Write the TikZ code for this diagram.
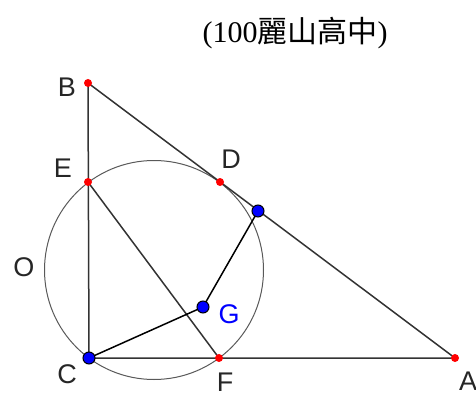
\documentclass[tikz,border=0pt]{standalone}
\usepackage{fontspec}
\setmainfont{Liberation Serif}
\setsansfont{Liberation Sans}
\newfontfamily\cjkfont{Noto Sans CJK TC}
\usetikzlibrary{positioning,calc}

\begin{document}
\begin{tikzpicture}[x=1pt, y=-1pt,
  seg/.style    = {draw=black!80, line width=1.5pt},
  link/.style   = {draw=black, line width=1.5pt},
  circ/.style   = {draw=black!65, line width=1pt},
  redpt/.style  = {circle, fill=red, inner sep=0pt, minimum size=8pt},
  bluept/.style = {circle, fill=blue, draw=black, line width=1pt,
                   inner sep=0pt, minimum size=12pt},
  lbl/.style    = {font=\sffamily\fontsize{27}{27}\selectfont, text=black!85},
  title/.style  = {font=\fontsize{30}{30}\selectfont}
]
\useasboundingbox (0,0) rectangle (476,393);

% , - Points , -
\coordinate (B)  at (88,83);
\coordinate (E)  at (88,182);
\coordinate (D)  at (220,182);
\coordinate (C)  at (89,358);
\coordinate (F)  at (219,358);
\coordinate (A)  at (455,358);
\coordinate (P)  at (258,211);
\coordinate (G)  at (203,307);
\coordinate (O)  at (154,270);

% , - Title , -
\node[title] (head) at (295,33) {(100{\cjkfont 麗山高中})};

% , - Circle and triangle , -
\draw[circ] (O) circle[radius=109.5pt];
\draw[seg] (B) -- (C) -- (A) -- cycle;
\draw[seg] (E) -- (F);

% , - Segments to G , -
\draw[link] (C) -- (G) -- (P);

% , - Dots , -
\foreach \p in {B,E,D,F,A}
  \node[redpt] (dot\p) at (\p) {};
\foreach \p in {C,G,P}
  \node[bluept] (dot\p) at (\p) {};

% , - Labels , -
\node[lbl] (labB) at (67,87)  {B};
\node[lbl] (labE) at (63,168) {E};
\node[lbl] (labD) at (231,159) {D};
\node[lbl] (labO) at (24,267) {O};
\node[lbl] (labC) at (67,374) {C};
\node[lbl] (labF) at (225,382) {F};
\node[lbl] (labA) at (468,381) {A};
\node[lbl, text=blue] (labG) at (229,314) {G};

\end{tikzpicture}
\end{document}
